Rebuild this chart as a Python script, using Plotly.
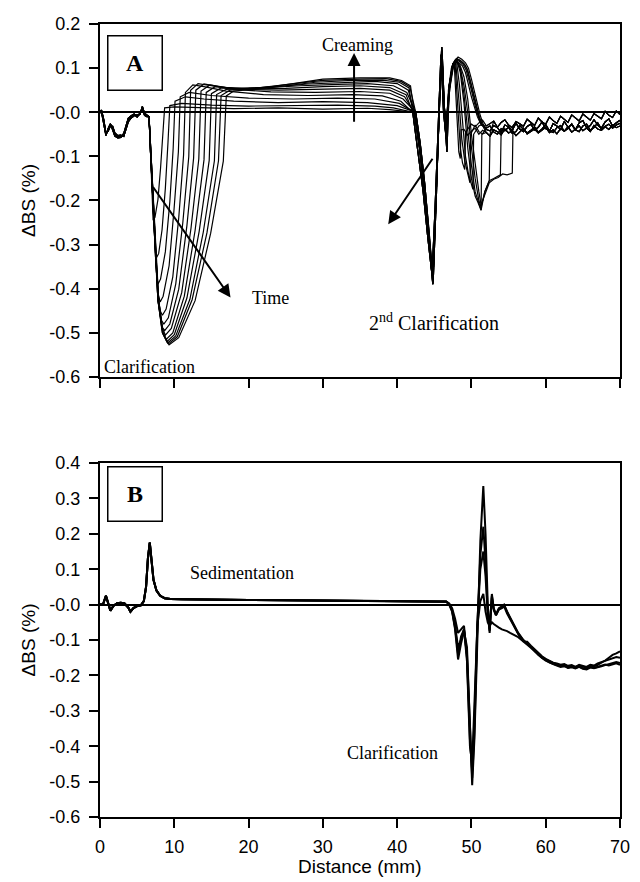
import plotly.graph_objects as go

# ---------------- Panel A data (13 time profiles) ----------------
START_X = [0.0, 0.2, 0.5, 0.8, 1.1, 1.4, 1.7, 2.0, 2.4, 2.8,
           3.2, 3.5, 3.8, 4.2, 4.6, 5.0, 5.4, 5.7, 6.0, 6.3]
START_Y = [
    [0.000, 0.003, -0.020, -0.050, -0.040, -0.028, -0.035, -0.050, -0.056, -0.055,
     -0.052, -0.035, -0.018, -0.010, -0.006, -0.009, -0.003, 0.010, -0.004, -0.008],
    [0.004, 0.000, -0.026, -0.053, -0.037, -0.026, -0.040, -0.054, -0.058, -0.057,
     -0.048, -0.030, -0.014, -0.008, -0.004, -0.011, -0.001, 0.006, -0.007, -0.010],
    [-0.002, 0.005, -0.016, -0.047, -0.043, -0.031, -0.032, -0.047, -0.053, -0.052,
     -0.055, -0.040, -0.022, -0.013, -0.008, -0.006, -0.005, 0.013, -0.002, -0.006],
]

DIP_X = [
    [6.6, 6.8, 7.0, 7.15, 7.4, 7.8, 8.15, 8.45],
    [6.6, 6.8, 7.1, 7.4, 7.6, 7.9, 8.35, 8.8, 9.15],
    [6.6, 6.8, 7.1, 7.5, 7.8, 8.15, 8.8, 9.4, 9.85],
    [6.6, 6.8, 7.1, 7.5, 7.8, 8.1, 8.5, 9.3, 9.95, 10.55],
    [6.6, 6.85, 7.15, 7.55, 7.85, 8.1, 8.4, 8.9, 9.8, 10.6, 11.25],
    [6.6, 6.8, 7.1, 7.5, 7.8, 8.2, 8.6, 9.2, 10.2, 11.15, 11.95],
    [6.6, 6.85, 7.15, 7.55, 7.85, 8.3, 8.7, 9.4, 10.6, 11.7, 12.6],
    [6.6, 6.8, 7.1, 7.5, 7.8, 8.4, 8.8, 9.6, 11.0, 12.25, 13.3],
    [6.6, 6.85, 7.15, 7.55, 7.9, 8.45, 8.9, 9.8, 11.35, 12.8, 14.0],
    [6.6, 6.8, 7.1, 7.5, 7.8, 8.4, 9.0, 10.0, 11.7, 13.35, 14.7],
    [6.6, 6.85, 7.15, 7.55, 7.9, 8.45, 9.1, 10.2, 12.1, 13.9, 15.4],
    [6.6, 6.8, 7.1, 7.5, 7.8, 8.4, 9.2, 10.4, 12.4, 14.4, 15.95],
    [6.6, 6.85, 7.15, 7.55, 7.9, 8.5, 9.3, 10.6, 12.8, 14.9, 16.6],
]
DIP_Y = [
    [-0.01, -0.09, -0.17, -0.245, -0.238, -0.198, -0.127, -0.051],
    [-0.01, -0.09, -0.2, -0.3, -0.33, -0.32, -0.267, -0.172, -0.069],
    [-0.01, -0.09, -0.2, -0.335, -0.39, -0.378, -0.316, -0.203, -0.082],
    [-0.01, -0.09, -0.2, -0.335, -0.41, -0.43, -0.417, -0.348, -0.224, -0.09],
    [-0.01, -0.09, -0.2, -0.335, -0.426, -0.45, -0.46, -0.446, -0.373, -0.239, -0.097],
    [-0.01, -0.09, -0.2, -0.335, -0.426, -0.47, -0.48, -0.466, -0.389, -0.25, -0.101],
    [-0.01, -0.09, -0.2, -0.335, -0.426, -0.485, -0.495, -0.48, -0.401, -0.257, -0.104],
    [-0.01, -0.09, -0.2, -0.335, -0.426, -0.49, -0.505, -0.49, -0.409, -0.263, -0.106],
    [-0.01, -0.09, -0.2, -0.335, -0.426, -0.5, -0.515, -0.5, -0.417, -0.268, -0.108],
    [-0.01, -0.09, -0.2, -0.335, -0.426, -0.5, -0.52, -0.504, -0.421, -0.27, -0.109],
    [-0.01, -0.09, -0.2, -0.335, -0.426, -0.5, -0.523, -0.507, -0.424, -0.272, -0.11],
    [-0.01, -0.09, -0.2, -0.335, -0.426, -0.5, -0.525, -0.509, -0.425, -0.273, -0.11],
    [-0.01, -0.09, -0.2, -0.335, -0.426, -0.5, -0.527, -0.511, -0.427, -0.274, -0.111],
]

PLAT_X = [
    [8.7, 10, 14, 18, 24, 30, 36, 39],
    [9.4, 11, 15, 20, 26, 32, 37, 39.5],
    [10.1, 11.5, 14, 18, 24, 30, 36, 40],
    [10.8, 12, 15, 20, 26, 32, 37, 40.3],
    [11.5, 12.5, 14, 17, 22, 28, 34, 38, 40.5],
    [12.2, 13.2, 15, 18, 23, 29, 35, 39, 40.8],
    [12.9, 14, 16, 19, 24, 30, 35, 39, 41],
    [13.6, 14.8, 17, 20, 25, 30, 35, 39, 41.2],
    [14.3, 15.5, 18, 22, 27, 32, 36, 39.5, 41.3],
    [15, 16.3, 19, 23, 28, 33, 37, 40, 41.5],
    [15.7, 17, 20, 25, 29, 34, 38, 40.3, 41.6],
    [16.3, 17.5, 20, 25, 30, 35, 38.5, 40.5, 41.7],
    [17, 18, 21, 26, 30, 35, 39, 40.6, 41.8],
]
PLAT_Y = [
    [0.01, 0.012, 0.01, 0.008, 0.01, 0.007, 0.009, 0.006],
    [0.015, 0.02, 0.016, 0.014, 0.015, 0.016, 0.014, 0.01],
    [0.025, 0.035, 0.03, 0.025, 0.022, 0.024, 0.022, 0.015],
    [0.035, 0.045, 0.038, 0.032, 0.03, 0.032, 0.03, 0.02],
    [0.045, 0.062, 0.058, 0.048, 0.04, 0.038, 0.04, 0.037, 0.025],
    [0.05, 0.065, 0.06, 0.052, 0.046, 0.045, 0.047, 0.043, 0.03],
    [0.05, 0.064, 0.058, 0.052, 0.05, 0.052, 0.054, 0.05, 0.035],
    [0.048, 0.062, 0.056, 0.053, 0.054, 0.058, 0.06, 0.056, 0.04],
    [0.045, 0.058, 0.054, 0.055, 0.06, 0.063, 0.065, 0.06, 0.045],
    [0.042, 0.055, 0.054, 0.057, 0.064, 0.068, 0.07, 0.065, 0.05],
    [0.04, 0.052, 0.054, 0.06, 0.068, 0.072, 0.073, 0.068, 0.055],
    [0.038, 0.05, 0.053, 0.062, 0.072, 0.075, 0.076, 0.07, 0.058],
    [0.037, 0.048, 0.053, 0.065, 0.075, 0.078, 0.078, 0.072, 0.06],
]

SPIKE_X = [
    [42.3, 43.0, 43.6, 44.2, 44.8, 45.2, 45.6, 46.0, 46.3, 46.6],
    [42.1, 42.8, 43.5, 44.1, 44.7, 45.1, 45.5, 45.9, 46.25, 46.6],
    [42.5, 43.1, 43.7, 44.3, 44.85, 45.3, 45.7, 46.05, 46.4, 46.7],
]
SPIKE_Y = [
    [0.0, -0.08, -0.17, -0.27, -0.39, -0.2, 0.0, 0.148, 0.02, -0.03],
    [0.0, -0.09, -0.18, -0.28, -0.37, -0.22, -0.02, 0.13, 0.0, -0.06],
    [0.0, -0.07, -0.16, -0.27, -0.385, -0.18, 0.03, 0.14, -0.01, -0.09],
]

HUMP_X = [
    [47.0, 47.5, 48.0, 48.5, 49.0, 49.5, 50.0, 50.5, 51.0, 51.3, 51.8, 52.4, 53.0, 53.6, 54.2, 54.8, 55.5, 55.6],
    [47.0, 47.5, 48.0, 48.5, 49.0, 49.5, 50.0, 50.5, 51.0, 51.3, 51.8, 52.4, 53.0, 53.5, 53.9, 54.0],
    [47.0, 47.5, 48.0, 48.5, 49.0, 49.5, 50.0, 50.5, 51.0, 51.3, 51.8, 52.2, 52.4, 52.5],
    [47.0, 47.5, 48.0, 48.5, 49.0, 49.5, 50.0, 50.5, 50.9, 51.3, 51.4],
    [47.0, 47.5, 48.0, 48.4, 48.8, 49.2, 49.6, 50.0, 50.2, 50.3],
    [47.0, 47.5, 47.9, 48.3, 48.7, 49.1, 49.5, 49.8, 49.9],
    [47.0, 47.4, 47.8, 48.1, 48.5, 48.8, 49.1, 49.2],
    [47.0, 47.4, 47.7, 48.0, 48.3, 48.5, 48.6],
    [46.9, 47.3, 47.8, 48.3, 48.8, 49.2, 49.6, 50.0, 50.4, 50.8, 51.2],
    [46.9, 47.4, 47.9, 48.4, 48.9, 49.3, 49.7, 50.1, 50.5, 50.9, 51.3],
    [47.0, 47.5, 48.0, 48.5, 49.0, 49.4, 49.8, 50.2, 50.6, 51.0, 51.4],
    [47.0, 47.6, 48.1, 48.6, 49.1, 49.5, 49.9, 50.3, 50.7, 51.1, 51.5],
    [47.1, 47.7, 48.2, 48.7, 49.2, 49.6, 50.0, 50.4, 50.8, 51.2, 51.6],
]
HUMP_Y = [
    [0.06, 0.1, 0.115, 0.105, 0.08, 0.03, -0.05, -0.12, -0.18, -0.21, -0.185, -0.16, -0.152, -0.148, -0.14, -0.142, -0.138, -0.03],
    [0.06, 0.11, 0.118, 0.1, 0.06, 0.0, -0.08, -0.15, -0.2, -0.215, -0.18, -0.155, -0.15, -0.145, -0.142, -0.04],
    [0.06, 0.11, 0.115, 0.1, 0.04, -0.04, -0.12, -0.18, -0.21, -0.222, -0.18, -0.16, -0.155, -0.05],
    [0.06, 0.11, 0.12, 0.09, 0.02, -0.08, -0.15, -0.19, -0.205, -0.222, -0.05],
    [0.06, 0.11, 0.115, 0.06, -0.02, -0.1, -0.14, -0.165, -0.175, -0.05],
    [0.05, 0.105, 0.11, 0.03, -0.06, -0.11, -0.14, -0.16, -0.05],
    [0.05, 0.1, 0.11, 0.02, -0.08, -0.115, -0.13, -0.045],
    [0.04, 0.1, 0.105, 0.0, -0.09, -0.105, -0.04],
    [0.05, 0.1, 0.118, 0.112, 0.105, 0.09, 0.06, 0.035, 0.012, -0.01, -0.025],
    [0.04, 0.105, 0.12, 0.115, 0.108, 0.095, 0.07, 0.04, 0.015, -0.008, -0.028],
    [0.05, 0.11, 0.122, 0.118, 0.11, 0.098, 0.072, 0.042, 0.016, -0.01, -0.03],
    [0.05, 0.112, 0.12, 0.115, 0.108, 0.095, 0.068, 0.038, 0.012, -0.012, -0.03],
    [0.055, 0.115, 0.125, 0.12, 0.112, 0.1, 0.075, 0.045, 0.018, -0.008, -0.028],
]

TAIL_X = [48.5, 49.0, 49.5, 50.0, 50.5, 51.0, 51.5, 52.0, 52.5, 53.0,
          53.5, 54.0, 54.5, 55.0, 55.5, 56.0, 56.5, 57.0, 57.5, 58.0,
          58.5, 59.0, 59.5, 60.0, 60.5, 61.0, 61.5, 62.0, 62.5, 63.0,
          63.5, 64.0, 64.5, 65.0, 65.5, 66.0, 66.5, 67.0, 67.5, 68.0,
          68.5, 69.0, 69.5, 70.0]
TAIL_Y = [
    [-0.030, -0.041, -0.028, -0.036, -0.045, -0.031, -0.027, -0.039, -0.042, -0.030,
     -0.035, -0.046, -0.029, -0.033, -0.041, -0.025, -0.038, -0.044, -0.032, -0.027,
     -0.040, -0.034, -0.022, -0.037, -0.043, -0.026, -0.031, -0.039, -0.021, -0.034,
     -0.028, -0.040, -0.024, -0.019, -0.035, -0.030, -0.017, -0.029, -0.036, -0.022,
     -0.015, -0.031, -0.024, -0.018],
    [-0.040, -0.033, -0.047, -0.038, -0.029, -0.044, -0.049, -0.036, -0.031, -0.045,
     -0.050, -0.037, -0.042, -0.034, -0.048, -0.044, -0.030, -0.039, -0.047, -0.041,
     -0.033, -0.045, -0.038, -0.028, -0.042, -0.046, -0.035, -0.030, -0.043, -0.037,
     -0.026, -0.040, -0.044, -0.031, -0.027, -0.041, -0.035, -0.024, -0.038, -0.032,
     -0.027, -0.036, -0.029, -0.025],
    [-0.022, -0.030, -0.019, -0.027, -0.033, -0.024, -0.018, -0.031, -0.026, -0.020,
     -0.034, -0.023, -0.017, -0.029, -0.035, -0.021, -0.026, -0.032, -0.016, -0.024,
     -0.030, -0.013, -0.022, -0.027, -0.011, -0.019, -0.025, -0.009, -0.016, -0.023,
     -0.006, -0.014, -0.020, -0.004, -0.012, -0.018, -0.003, -0.009, -0.015, 0.002,
     -0.007, -0.012, 0.003, -0.005],
    [-0.048, -0.039, -0.052, -0.043, -0.036, -0.050, -0.041, -0.046, -0.054, -0.040,
     -0.044, -0.051, -0.038, -0.047, -0.042, -0.053, -0.045, -0.036, -0.049, -0.043,
     -0.038, -0.047, -0.041, -0.034, -0.046, -0.040, -0.049, -0.037, -0.043, -0.033,
     -0.045, -0.039, -0.031, -0.042, -0.036, -0.044, -0.030, -0.038, -0.041, -0.033,
     -0.039, -0.029, -0.035, -0.031],
]

# ---------------- Panel B data (4 profiles) ----------------
B_START_X = [0.0, 0.4, 0.8, 1.1, 1.4, 1.8, 2.3, 2.8, 3.3, 3.8,
             4.1, 4.5, 5.0, 5.5, 5.9, 6.2, 6.45, 6.7, 6.95, 7.2,
             7.6, 8.1, 8.7, 9.5, 11, 13, 16, 20, 25, 30,
             35, 40, 43, 45, 46.2]
B_START_Y = [0.0, 0.0, 0.025, 0.0, -0.017, -0.004, 0.004, 0.005, 0.003, -0.008,
             -0.02, -0.01, -0.004, -0.002, 0.01, 0.05, 0.13, 0.175, 0.13, 0.07,
             0.04, 0.025, 0.018, 0.016, 0.015, 0.015, 0.014, 0.013, 0.012, 0.011,
             0.011, 0.01, 0.01, 0.01, 0.009]

B_MID_X = [46.6, 47.0, 47.4, 47.8, 48.2, 48.6, 49.0, 49.4, 49.8, 50.1,
           50.4, 50.8, 51.2, 51.6, 51.9, 52.2, 52.45, 52.75, 53.0, 53.3,
           53.7, 54.1, 54.4, 54.8, 55.2, 55.7, 56.3, 57.0]
B_MID_Y = [
    [0.008, 0.0, -0.02, -0.07, -0.155, -0.11, -0.075, -0.12, -0.35, -0.51,
     -0.38, -0.08, 0.18, 0.335, 0.2, 0.0, -0.08, 0.03, -0.01, -0.028,
     -0.01, -0.005, 0.0, -0.02, -0.035, -0.055, -0.08, -0.1],
    [0.008, 0.002, -0.015, -0.06, -0.12, -0.1, -0.07, -0.14, -0.37, -0.49,
     -0.36, -0.06, 0.14, 0.22, 0.12, -0.02, -0.07, 0.025, -0.012, -0.03,
     -0.012, -0.008, -0.002, -0.022, -0.038, -0.058, -0.082, -0.102],
    [0.009, 0.003, -0.01, -0.04, -0.08, -0.07, -0.06, -0.15, -0.38, -0.47,
     -0.33, -0.05, 0.1, 0.15, 0.08, -0.03, -0.075, 0.02, -0.015, -0.03,
     -0.014, -0.01, -0.005, -0.025, -0.04, -0.06, -0.083, -0.104],
    [0.009, 0.002, -0.018, -0.065, -0.14, -0.09, -0.07, -0.16, -0.4, -0.45,
     -0.3, -0.06, 0.01, 0.03, -0.02, -0.05, -0.06, -0.05, -0.055, -0.06,
     -0.065, -0.07, -0.072, -0.075, -0.08, -0.085, -0.092, -0.104],
]

B_TAIL_X = [57.5, 58.0, 58.5, 59.0, 59.5, 60.0, 60.5, 61.0, 61.5, 62.0,
            62.5, 63.0, 63.5, 64.0, 64.5, 65.0, 65.5, 66.0, 66.5, 67.0,
            67.5, 68.0, 68.5, 69.0, 69.5, 70.0]
B_TAIL_Y = [
    [-0.108, -0.118, -0.128, -0.14, -0.148, -0.155, -0.16, -0.165, -0.168, -0.172,
     -0.17, -0.175, -0.173, -0.177, -0.172, -0.176, -0.178, -0.172, -0.175, -0.17,
     -0.165, -0.158, -0.15, -0.142, -0.138, -0.132],
    [-0.11, -0.12, -0.13, -0.142, -0.15, -0.157, -0.163, -0.167, -0.171, -0.174,
     -0.172, -0.178, -0.175, -0.179, -0.175, -0.18, -0.181, -0.176, -0.179, -0.175,
     -0.172, -0.169, -0.172, -0.168, -0.166, -0.17],
    [-0.105, -0.116, -0.126, -0.138, -0.146, -0.153, -0.158, -0.164, -0.166, -0.17,
     -0.168, -0.173, -0.171, -0.176, -0.17, -0.174, -0.176, -0.17, -0.172, -0.166,
     -0.162, -0.16, -0.156, -0.152, -0.148, -0.15],
    [-0.112, -0.122, -0.132, -0.143, -0.151, -0.158, -0.164, -0.168, -0.172, -0.176,
     -0.174, -0.179, -0.177, -0.18, -0.176, -0.181, -0.183, -0.178, -0.18, -0.176,
     -0.174, -0.171, -0.168, -0.166, -0.162, -0.165],
]

Y_TICKS_A = [0.2, 0.1, 0.0, -0.1, -0.2, -0.3, -0.4, -0.5, -0.6]
Y_TEXT_A = ["0.2", "0.1", "-0.0", "-0.1", "-0.2", "-0.3", "-0.4", "-0.5", "-0.6"]
Y_TICKS_B = [0.4, 0.3, 0.2, 0.1, 0.0, -0.1, -0.2, -0.3, -0.4, -0.5, -0.6]
Y_TEXT_B = ["0.4", "0.3", "0.2", "0.1", "-0.0", "-0.1", "-0.2", "-0.3", "-0.4", "-0.5", "-0.6"]
X_TICKS = [0, 10, 20, 30, 40, 50, 60, 70]

fig = go.Figure()

for i in range(len(DIP_X)):
    s = i % 3
    xs = START_X + DIP_X[i] + PLAT_X[i] + SPIKE_X[s] + HUMP_X[i]
    ys = START_Y[s] + DIP_Y[i] + PLAT_Y[i] + SPIKE_Y[s] + HUMP_Y[i]
    last = HUMP_X[i][-1]
    for tx, ty in zip(TAIL_X, TAIL_Y[i % 4]):
        if tx >= last + 0.4:
            xs.append(tx)
            ys.append(ty)
    fig.add_trace(go.Scatter(x=xs, y=ys, mode="lines", xaxis="x", yaxis="y",
                             line=dict(color="black", width=1.2),
                             showlegend=False, hoverinfo="skip"))

for i in range(len(B_MID_Y)):
    xs = B_START_X + B_MID_X + B_TAIL_X
    ys = B_START_Y + B_MID_Y[i] + B_TAIL_Y[i]
    fig.add_trace(go.Scatter(x=xs, y=ys, mode="lines", xaxis="x2", yaxis="y2",
                             line=dict(color="black", width=2),
                             showlegend=False, hoverinfo="skip"))

tickfont = dict(family="Liberation Sans, Arial", size=18, color="black")
axis_common = dict(showline=True, linewidth=2, linecolor="black", mirror=True,
                   ticks="outside", ticklen=9, tickwidth=2, tickcolor="black",
                   showgrid=False, tickfont=tickfont)

fig.update_layout(
    width=640, height=882,
    margin=dict(l=100, r=10, t=24, b=65),
    plot_bgcolor="white", paper_bgcolor="white",
    showlegend=False,
    xaxis=dict(domain=[0, 1], range=[0, 70], anchor="y", tickvals=X_TICKS,
               showticklabels=False, zeroline=False, **axis_common),
    yaxis=dict(domain=[0.5549, 1], range=[-0.6, 0.2], anchor="x",
               tickvals=Y_TICKS_A, ticktext=Y_TEXT_A, ticklabelstandoff=5,
               zeroline=True, zerolinecolor="black", zerolinewidth=1.5,
               **axis_common),
    xaxis2=dict(domain=[0, 1], range=[0, 70], anchor="y2", tickvals=X_TICKS,
                showticklabels=True, zeroline=False, ticklabelstandoff=3,
                **axis_common),
    yaxis2=dict(domain=[0, 0.4464], range=[-0.6, 0.4], anchor="x2",
                tickvals=Y_TICKS_B, ticktext=Y_TEXT_B, ticklabelstandoff=5,
                zeroline=True, zerolinecolor="black", zerolinewidth=1.5,
                **axis_common),
)

serif = "Liberation Serif, Times New Roman"
ann = []
# axis titles
for ymid in [(0.5549 + 1) / 2, 0.4464 / 2]:
    ann.append(dict(text="ΔBS (%)", xref="paper", yref="paper", x=-0.1377, y=ymid,
                    textangle=-90, showarrow=False, xanchor="center", yanchor="middle",
                    font=dict(family="Liberation Sans, Arial", size=19, color="black")))
ann.append(dict(text="Distance (mm)", xref="paper", yref="paper", x=0.5, y=-0.0618,
                showarrow=False, xanchor="center", yanchor="middle",
                font=dict(family="Liberation Sans, Arial", size=19, color="black")))

# panel labels in boxes
ann.append(dict(text="<b>A</b>", xref="x", yref="y", x=4.69, y=0.112, showarrow=False,
                width=53, height=53, bordercolor="black", borderwidth=1.5, borderpad=0,
                font=dict(family=serif, size=24, color="black")))
ann.append(dict(text="<b>B</b>", xref="x2", yref="y2", x=4.69, y=0.312, showarrow=False,
                width=53, height=53, bordercolor="black", borderwidth=1.5, borderpad=0,
                font=dict(family=serif, size=24, color="black")))

# texts panel A
ann.append(dict(text="Creaming", xref="x", yref="y", x=34.7, y=0.152, showarrow=False,
                font=dict(family=serif, size=18, color="black")))
ann.append(dict(text="Time", xref="x", yref="y", x=23.0, y=-0.4215, showarrow=False,
                font=dict(family=serif, size=18, color="black")))
ann.append(dict(text="2<sup>nd</sup> Clarification", xref="x", yref="y", x=44.9, y=-0.476,
                showarrow=False, font=dict(family=serif, size=20, color="black")))
ann.append(dict(text="Clarification", xref="x", yref="y", x=6.7, y=-0.578, showarrow=False,
                font=dict(family=serif, size=18, color="black")))
# texts panel B
ann.append(dict(text="Sedimentation", xref="x2", yref="y2", x=19.15, y=0.090, showarrow=False,
                font=dict(family=serif, size=18, color="black")))
ann.append(dict(text="Clarification", xref="x2", yref="y2", x=39.36, y=-0.418, showarrow=False,
                font=dict(family=serif, size=18, color="black")))

# arrows
arrow = dict(text="", showarrow=True, arrowhead=2, arrowsize=1.3, arrowwidth=2,
             arrowcolor="black", xref="x", yref="y", axref="x", ayref="y")
ann.append(dict(x=34.2, y=0.134, ax=34.2, ay=-0.025, **arrow))
ann.append(dict(x=17.57, y=-0.42, ax=7.0, ay=-0.166, **arrow))
ann.append(dict(x=38.8, y=-0.254, ax=44.9, ay=-0.102, **arrow))

fig.update_layout(annotations=ann)

fig.write_html("out.html")
